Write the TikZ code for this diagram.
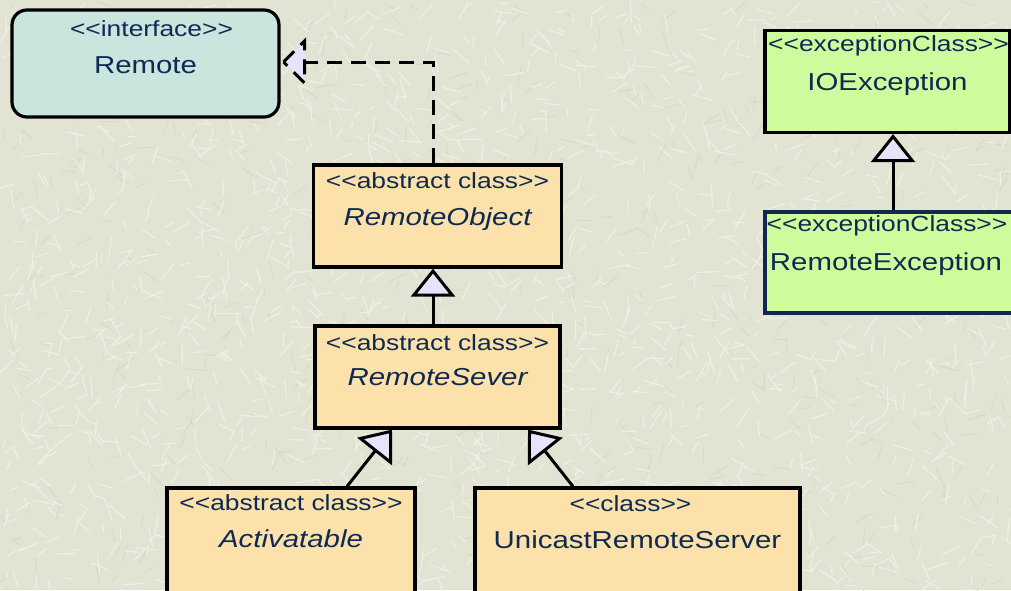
\documentclass[tikz,border=0pt]{standalone}
\usepackage{fontspec}
\newfontfamily\umlfont{Liberation Sans}[FakeStretch=1.2]
\usetikzlibrary{arrows.meta}

\definecolor{paper}{HTML}{E3E3D3}
\definecolor{fibre}{HTML}{EFEFE4}
\definecolor{darkfibre}{HTML}{D8D8C7}
\definecolor{ifacefill}{HTML}{C9E5DE}
\definecolor{classfill}{HTML}{FCE2AA}
\definecolor{excfill}{HTML}{CEFC9C}
\definecolor{umltext}{HTML}{0E2A52}
\definecolor{tipfill}{HTML}{E8E2FA}

\tikzset{
	box/.style={draw=black, line width=3.2pt, inner sep=0pt, minimum width=248pt, minimum height=102pt},
	classbox/.style={box, fill=classfill},
	excbox/.style={box, fill=excfill, minimum width=245pt, minimum height=102pt},
	stereo/.style={anchor=base, inner sep=0pt, text=umltext, font=\umlfont\fontsize{22}{26}\selectfont},
	cname/.style={anchor=base, inner sep=0pt, text=umltext, font=\umlfont\fontsize{24.5}{29}\selectfont},
	aname/.style={cname, font=\umlfont\itshape\fontsize{24.5}{29}\selectfont},
	inherit/.style={line width=3pt, -{Triangle[length=28pt, width=44pt, fill=tipfill]}},
	realize/.style={line width=3pt, dash pattern=on 15pt off 9pt},
}

\begin{document}
\begin{tikzpicture}[x=1pt, y=-1pt]
	\useasboundingbox (0,0) rectangle (1011,590);
	\clip (0,0) rectangle (1011,590);

	%% Hintergrund
	\fill[paper] (0,0) rectangle (1011,590);
	\pgfmathsetseed{11}
	\foreach \i in {1,...,500}{
		\pgfmathsetmacro\fx{rnd*1011}
		\pgfmathsetmacro\fy{rnd*590}
		\pgfmathsetmacro\fa{rnd*180}
		\pgfmathsetmacro\fl{6+rnd*14}
		\draw[darkfibre, line width=0.9pt, line cap=round] (\fx,\fy) -- ++(\fa:\fl);
	}
	\foreach \i in {1,...,1700}{
		\pgfmathsetmacro\fx{rnd*1011}
		\pgfmathsetmacro\fy{rnd*590}
		\pgfmathsetmacro\fa{rnd*180}
		\pgfmathsetmacro\fl{6+rnd*16}
		\draw[fibre, line width=1.2pt, line cap=round] (\fx,\fy) -- ++(\fa:\fl);
	}
	%%%%%%%%%%%%%%%%

	%% Interface
	\node[box, fill=ifacefill, rounded corners=15pt, minimum width=267pt, minimum height=107pt] (remote) at (145.5,63.5) {};
	\node[stereo] (remote-st) at ([xshift=6pt, yshift=-28pt]remote.north) {<<interface>>};
	\node[cname] (remote-nm) at ([yshift=-65pt]remote.north) {Remote};

	%% Klassen
	\node[classbox] (ro) at (437.5,216) {};
	\node[stereo] (ro-st) at ([yshift=-25pt]ro.north) {<<abstract class>>};
	\node[aname] (ro-nm) at ([yshift=-62pt]ro.north) {RemoteObject};

	\node[classbox, minimum width=245pt] (rs) at (437.5,377) {};
	\node[stereo] (rs-st) at ([yshift=-26pt]rs.north) {<<abstract class>>};
	\node[aname] (rs-nm) at ([yshift=-61pt]rs.north) {RemoteSever};

	\node[classbox, minimum height=110pt] (act) at (291,543) {};
	\node[stereo] (act-st) at ([yshift=-24pt]act.north) {<<abstract class>>};
	\node[aname] (act-nm) at ([yshift=-61pt]act.north) {Activatable};

	\node[classbox, minimum width=325pt, minimum height=110pt] (urs) at (637.5,543) {};
	\node[stereo] (urs-st) at ([xshift=-7pt, yshift=-25pt]urs.north) {<<class>>};
	\node[cname] (urs-nm) at ([yshift=-62pt]urs.north) {UnicastRemoteServer};

	%% Exceptions
	\node[excbox] (ioe) at (887.5,81.5) {};
	\node[stereo] (ioe-st) at ([xshift=1pt, yshift=-23pt]ioe.north) {<<exceptionClass>>};
	\node[cname] (ioe-nm) at ([yshift=-62pt]ioe.north) {IOException};

	\node[excbox, draw=umltext, minimum width=250pt, minimum height=101pt] (rex) at (890,262.5) {};
	\node[stereo] (rex-st) at ([xshift=-3pt, yshift=-21pt]rex.north) {<<exceptionClass>>};
	\node[cname] (rex-nm) at ([xshift=-4pt, yshift=-60pt]rex.north) {RemoteException};
	%%%%%%%%%%%%%%%%

	%% Vererbung
	\draw[inherit] ([xshift=-4.5pt]rs.north) -- ([xshift=-4.5pt]ro.south);
	\draw[inherit] ([xshift=56pt]act.north) -- ([xshift=-45.5pt]rs.south);
	\draw[inherit] ([xshift=-64.5pt]urs.north) -- ([xshift=90.5pt]rs.south);
	\draw[inherit] ([xshift=3pt]rex.north) -- ([xshift=5.5pt]ioe.south);

	%% Realisierung
	\coordinate (rtip) at ([xshift=3pt, yshift=1.5pt]remote.east);
	\draw[realize] ([xshift=-4.5pt]ro.north) |- (rtip);
	\draw[realize, fill=tipfill] (rtip) -- ++(21,-21) -- ++(0,42) -- cycle;
\end{tikzpicture}
\end{document}
